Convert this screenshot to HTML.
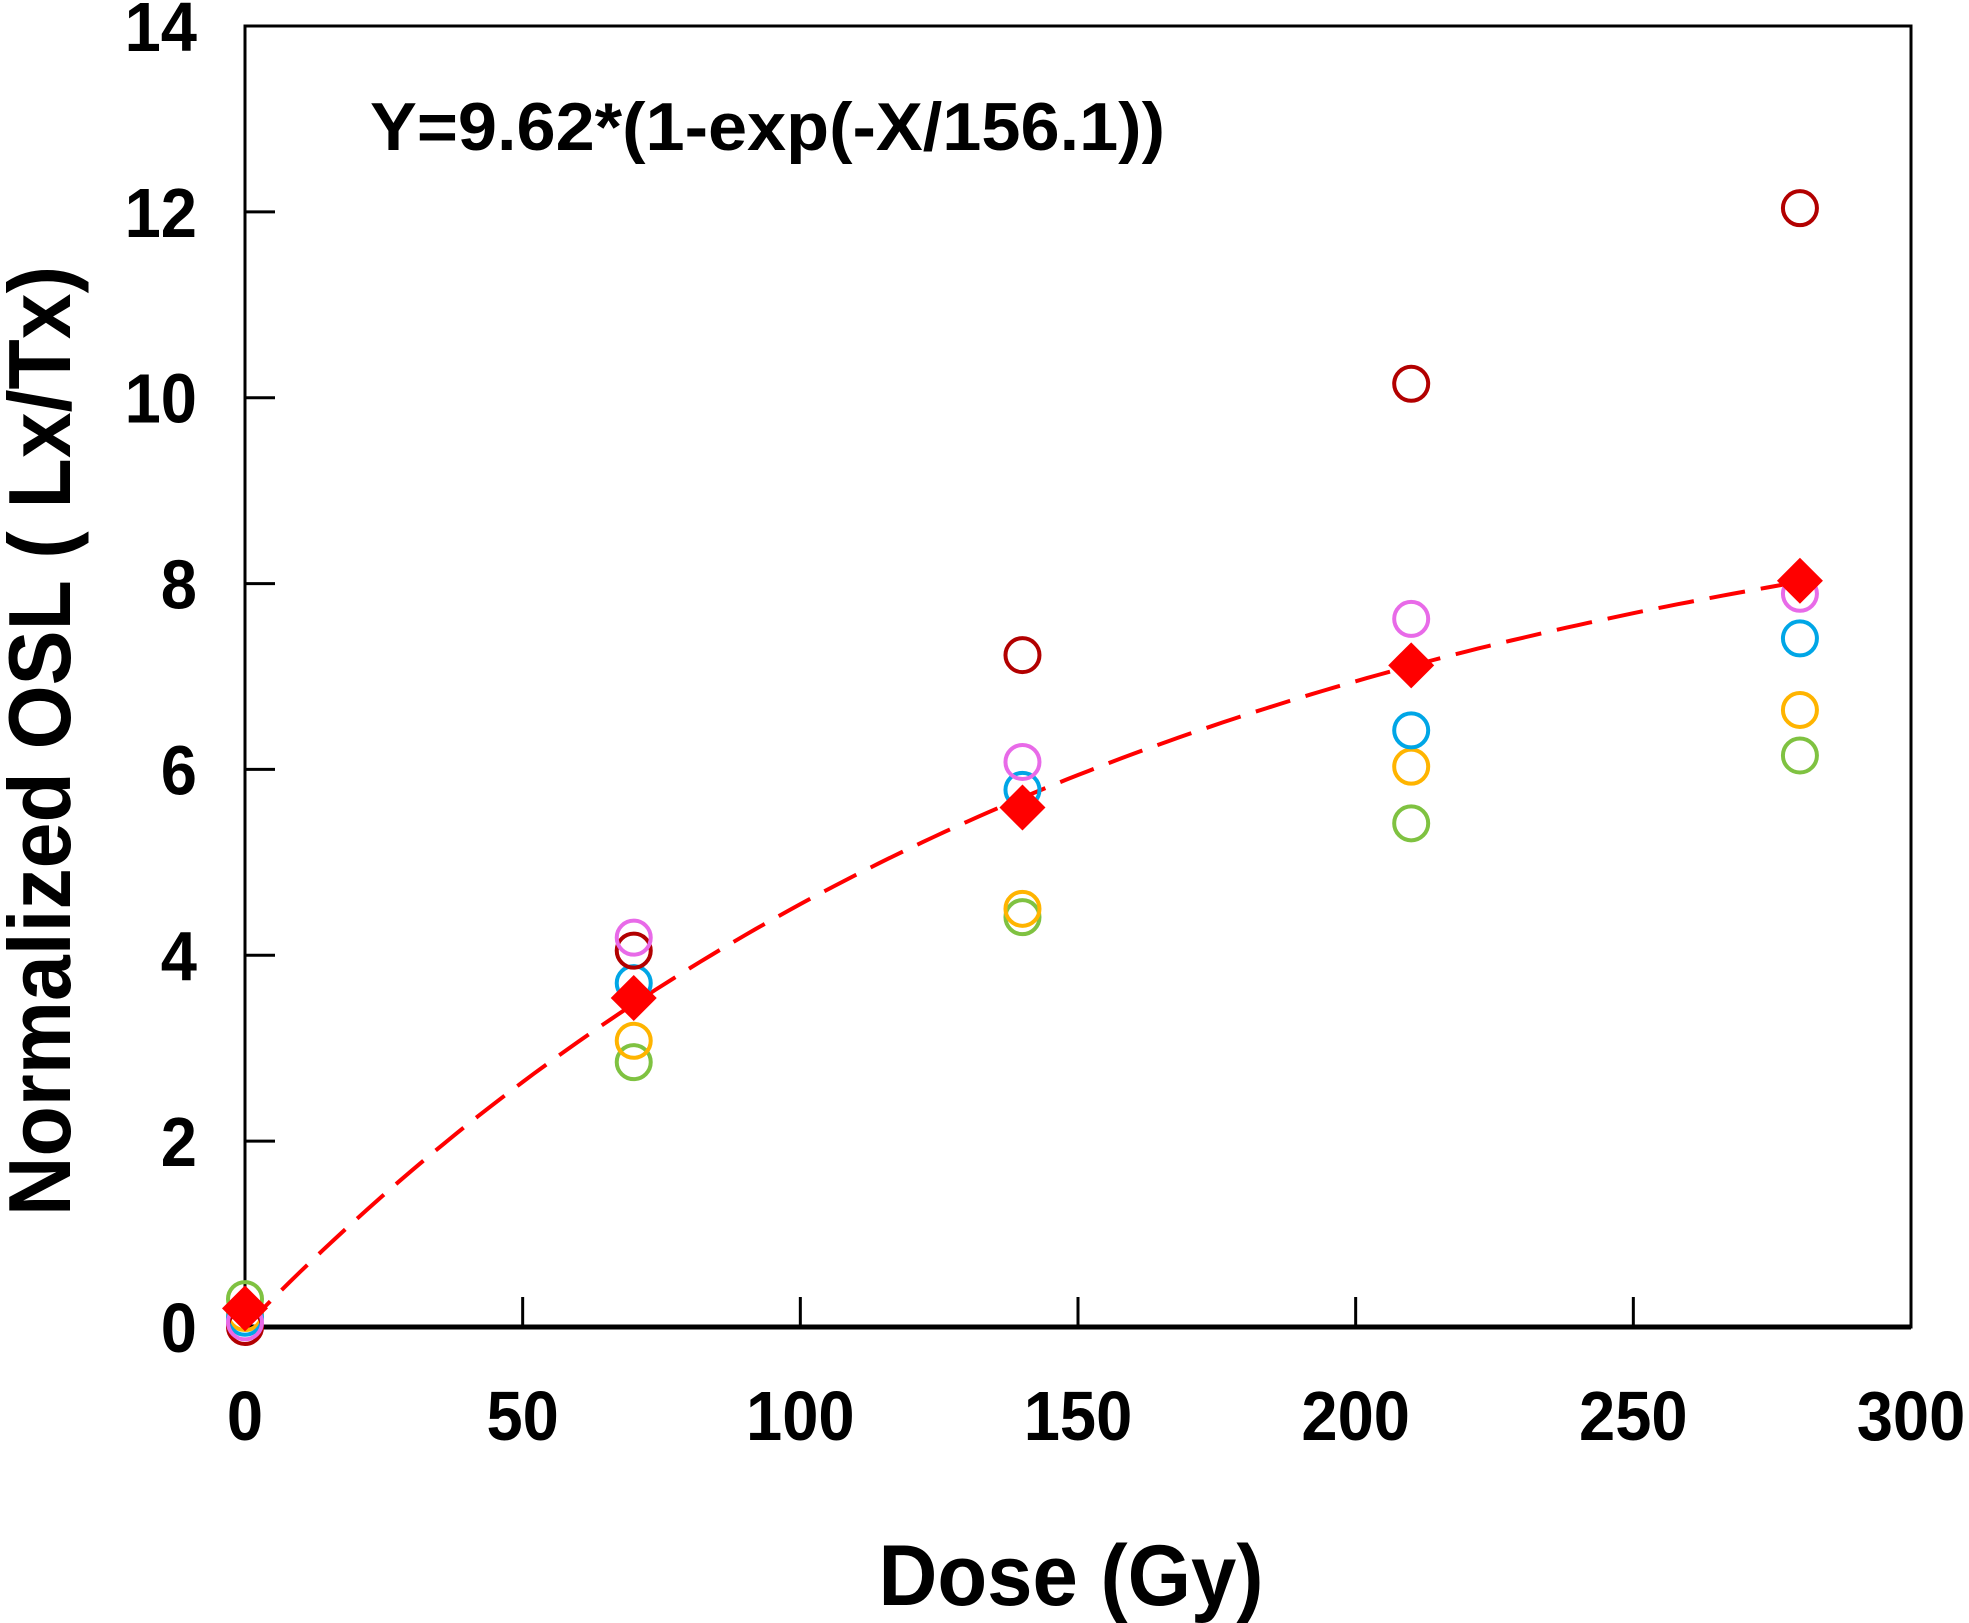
<!DOCTYPE html>
<html><head><meta charset="utf-8"><style>
html,body{margin:0;padding:0;background:#fff;}
svg{display:block;font-family:"Liberation Sans",Arial,sans-serif;font-weight:bold;}
</style></head><body>
<svg id="chart" width="1969" height="1623" viewBox="0 0 1969 1623" xmlns="http://www.w3.org/2000/svg">
<rect x="0" y="0" width="1969" height="1623" fill="#fff"/>
<g id="plot"></g>
</svg>
<script>
const doses = [0, 70, 140, 210, 280];
const seriesDarkRed = [0.0, 4.05, 7.23, 10.15, 12.04];
const seriesPink = [0.05, 4.19, 6.08, 7.62, 7.89];
const seriesBlue = [0.1, 3.70, 5.78, 6.42, 7.41];
const seriesOrange = [0.15, 3.08, 4.50, 6.03, 6.64];
const seriesGreen = [0.3, 2.85, 4.41, 5.42, 6.15];
const meanValues = [0.2, 3.54, 5.59, 7.12, 8.03];
const xTicks = [0, 50, 100, 150, 200, 250, 300];
const yTicks = [0, 2, 4, 6, 8, 10, 12, 14];
const fitA = 9.62, fitD0 = 156.1;

const NS = "http://www.w3.org/2000/svg";
const L = 245, R = 1911, T = 26, B = 1327;
const xs = v => L + (v / 300) * (R - L);
const ys = v => B - (v / 14) * (B - T);
const g = document.getElementById('plot');
function mk(tag, attrs) {
  const e = document.createElementNS(NS, tag);
  for (const k in attrs) e.setAttribute(k, attrs[k]);
  g.appendChild(e);
  return e;
}
let fr = mk('rect', {x: L, y: T, width: R - L, height: B - T, fill: 'none', stroke: '#000', 'stroke-width': 3});


let bx = mk('line', {x1: L, y1: B, x2: R, y2: B, stroke: '#000', 'stroke-width': 5});


xTicks.forEach(t => {
  if (t > 0 && t < 300) {
    const l = mk('line', {x1: xs(t), y1: B, x2: xs(t), y2: B - 30, stroke: '#000', 'stroke-width': 3});
    
    
  }
  const tx = mk('text', {x: 0, y: 0, 'text-anchor': 'middle', 'font-size': 70, transform: `translate(${xs(t)},1440) scale(0.93,1)`});
  tx.textContent = t;
  
  
});
yTicks.forEach(t => {
  if (t > 0 && t < 14) {
    const l = mk('line', {x1: L, y1: ys(t), x2: L + 30, y2: ys(t), stroke: '#000', 'stroke-width': 3});
    
    
  }
  const tx = mk('text', {x: 0, y: 0, 'text-anchor': 'end', 'font-size': 70, transform: `translate(197,${ys(t) + 25}) scale(0.93,1)`});
  tx.textContent = t;
  
  
});
let d = '';
for (let x = 0; x <= 280; x += 2) {
  const y = fitA * (1 - Math.exp(-x / fitD0));
  d += (x === 0 ? 'M' : 'L') + xs(x).toFixed(1) + ',' + ys(y).toFixed(1);
}
const fit = mk('path', {d: d, fill: 'none', stroke: '#ff0000', 'stroke-width': 4, 'stroke-dasharray': '36,16'});


const series = [
  ['green', seriesGreen, '#7fc241'],
  ['orange', seriesOrange, '#ffb400'],
  ['blue', seriesBlue, '#00a6e6'],
  ['darkred', seriesDarkRed, '#b20000'],
  ['pink', seriesPink, '#e86ae8']
];
series.forEach(s => {
  s[1].forEach((v, i) => {
    const c = mk('circle', {cx: xs(doses[i]), cy: ys(v), r: 17, fill: 'none', stroke: s[2], 'stroke-width': 4});
    
    
  });
});
meanValues.forEach((v, i) => {
  const cx = xs(doses[i]), cy = ys(v), h = 23;
  const p = mk('polygon', {points: `${cx},${cy - h} ${cx + h},${cy} ${cx},${cy + h} ${cx - h},${cy}`, fill: '#ff0000'});
  
  
});
const eq = mk('text', {x: 370, y: 150, 'font-size': 68, textLength: 795, lengthAdjust: 'spacingAndGlyphs'});
eq.textContent = 'Y=9.62*(1-exp(-X/156.1))';


const xl = mk('text', {x: 1071, y: 1605, 'text-anchor': 'middle', 'font-size': 86, textLength: 385, lengthAdjust: 'spacingAndGlyphs'});
xl.textContent = 'Dose (Gy)';


const yl = mk('text', {x: 0, y: 0, 'text-anchor': 'middle', 'font-size': 88, textLength: 950, lengthAdjust: 'spacingAndGlyphs', transform: 'translate(70,741) rotate(-90)'});
yl.textContent = 'Normalized OSL ( Lx/Tx)';


</script>
</body></html>
